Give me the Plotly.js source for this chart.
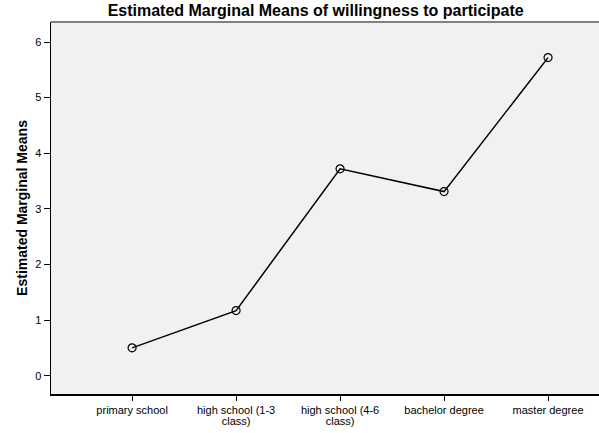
<!DOCTYPE html>
<html>
<head>
<meta charset="utf-8">
<script src="https://cdn.plot.ly/plotly-3.0.1.min.js"></script>
<style>html,body{margin:0;padding:0;background:#fff;}#chart{width:599px;height:433px;}</style>
</head>
<body>
<div id="chart"></div>
<script>
const categories = ["primary school", "high school (1-3 class)", "high school (4-6 class)", "bachelor degree", "master degree"];
const tickLabels = ["primary school", "high school (1-3<br>class)", "high school (4-6<br>class)", "bachelor degree", "master degree"];
const means = [0.50, 1.17, 3.72, 3.31, 5.72];
const yTicks = [0, 1, 2, 3, 4, 5, 6];

const trace = {
  x: categories,
  y: means,
  type: "scatter",
  mode: "lines+markers",
  line: {color: "#000", width: 1.5},
  marker: {symbol: "circle-open", size: 8, color: "#000", line: {color: "#000", width: 1.2}},
  hoverinfo: "skip"
};

const layout = {
  width: 599, height: 433,
  margin: {l: 51, r: 0, t: 22, b: 39},
  paper_bgcolor: "#fff",
  plot_bgcolor: "#f0f1f1",
  font: {family: "Liberation Sans, Arial, sans-serif", color: "#000", size: 11},
  title: {
    text: "<b>Estimated Marginal Means of willingness to participate</b>",
    font: {size: 16, family: "Liberation Sans, Arial, sans-serif", color: "#000"},
    x: 0.527, xanchor: "center", xref: "container",
    y: 0.975, yanchor: "middle", yref: "container"
  },
  xaxis: {
    type: "category",
    categoryorder: "array", categoryarray: categories,
    tickvals: categories, ticktext: tickLabels,
    range: [-0.78, 4.49],
    showgrid: false, zeroline: false,
    showline: true, linecolor: "#000", linewidth: 1.5,
    ticks: "outside", ticklen: 5, tickwidth: 1, tickcolor: "#000",
    tickfont: {size: 11}
  },
  yaxis: {
    range: [-0.33, 6.36],
    tickvals: yTicks,
    showgrid: false, zeroline: false,
    showline: true, linecolor: "#000", linewidth: 1.5,
    ticks: "outside", ticklen: 6, tickwidth: 1, tickcolor: "#000",
    tickfont: {size: 11},
    title: {text: "<b>Estimated Marginal Means</b>", font: {size: 14}, standoff: 4}
  },
  shapes: [{
    type: "line", xref: "paper", yref: "paper",
    x0: 0, x1: 1, y0: 1, y1: 1,
    line: {color: "#808080", width: 2}
  }],
  showlegend: false
};

Plotly.newPlot("chart", [trace], layout, {displayModeBar: false, staticPlot: true}).then(function () {
  document.querySelectorAll(".xtick text tspan.line").forEach(function (t) {
    var dy = t.getAttribute("dy");
    if (dy && parseFloat(dy) > 0) t.setAttribute("dy", "1.0em");
  });
});
</script>
</body>
</html>
